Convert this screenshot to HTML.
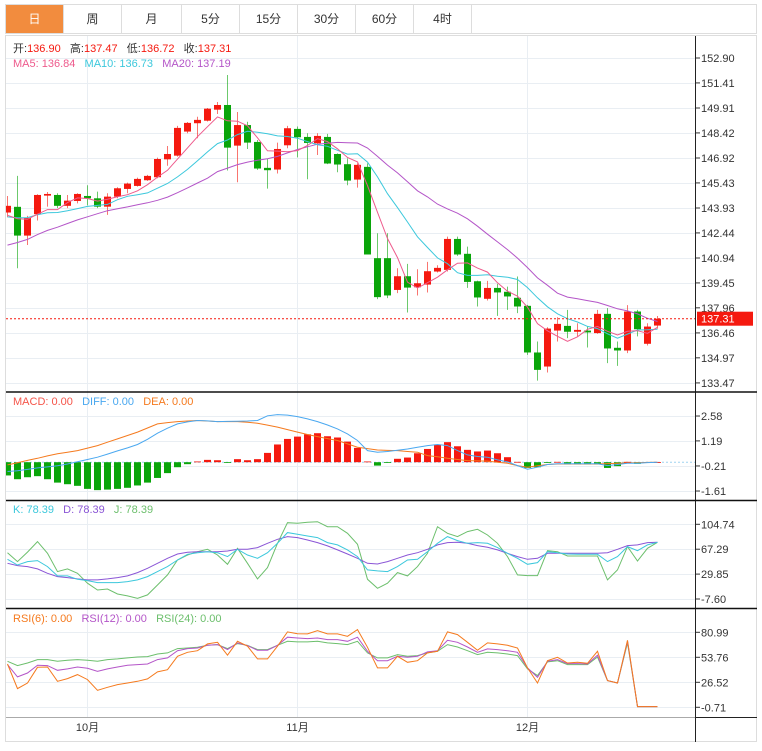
<!DOCTYPE html>
<html><head><meta charset="utf-8">
<style>
body{margin:0;background:#fff;width:762px;height:751px;overflow:hidden;font-family:"Liberation Sans","Noto Sans CJK SC",sans-serif}
#tabs{position:absolute;left:5px;top:4px;width:752px;height:30px;display:flex;border:1px solid #ddd;box-sizing:border-box}
.tab{width:58px;height:28px;line-height:28px;text-align:center;font-size:12px;color:#333;border-right:1px solid #ddd;box-sizing:border-box}
.tab.on{background:#f28c3e;color:#fff}
svg{position:absolute;left:0;top:0}
</style></head><body>
<div id="tabs">
<div class="tab on">日</div>
<div class="tab">周</div>
<div class="tab" style="width:60px">月</div>
<div class="tab">5分</div>
<div class="tab">15分</div>
<div class="tab">30分</div>
<div class="tab">60分</div>
<div class="tab">4时</div>
</div>
<svg id="chart" width="762" height="751"></svg>
<script>
const opens=[143.66,144.00,142.28,143.56,144.67,144.71,144.06,144.35,144.65,144.51,144.01,144.61,145.07,145.25,145.59,145.77,146.84,147.06,148.50,149.00,149.15,149.81,150.09,147.66,148.89,147.88,146.33,146.23,147.68,148.66,148.18,147.80,148.18,147.16,146.55,145.63,146.39,140.93,140.93,139.03,139.85,139.19,139.35,140.13,140.23,142.08,141.19,139.55,138.50,139.15,138.92,138.56,138.08,135.29,134.45,136.60,136.88,136.53,136.60,136.45,137.60,135.57,135.41,137.74,135.81,136.90];
const closes=[144.06,142.28,143.34,144.71,144.77,144.06,144.37,144.77,144.51,144.01,144.61,145.11,145.39,145.67,145.85,146.86,147.16,148.72,149.02,149.20,149.87,150.09,147.54,148.89,147.84,146.29,146.19,147.46,148.70,148.16,147.82,148.24,146.59,146.53,145.57,146.51,141.15,138.60,138.70,139.85,139.17,139.43,140.15,140.35,142.08,141.15,139.51,138.58,139.15,138.88,138.64,138.04,135.29,134.25,136.72,137.00,136.53,136.64,136.49,137.60,135.53,135.41,137.74,136.68,136.84,137.31];
const highs=[144.65,145.85,143.46,144.75,144.89,144.81,144.71,144.81,145.29,144.91,144.81,145.17,145.45,145.75,145.91,146.94,147.64,148.84,149.07,149.39,149.91,150.27,151.88,149.67,149.09,148.00,146.86,147.84,148.84,148.80,148.40,148.40,148.36,147.20,146.90,146.60,146.60,142.42,142.42,140.33,140.59,140.27,140.71,140.51,142.22,142.22,141.62,139.59,139.57,139.39,139.23,139.83,138.14,135.95,136.80,137.40,137.84,137.04,136.84,137.84,137.94,135.95,138.12,137.84,137.04,137.47];
const lows=[143.38,140.33,141.72,143.18,144.01,143.92,143.92,144.21,144.09,143.92,143.52,144.51,144.81,145.21,145.55,145.71,146.46,147.00,148.40,148.10,149.10,149.55,146.17,145.47,147.46,146.21,145.09,145.99,147.50,146.96,145.65,147.10,146.55,146.07,145.29,145.15,141.15,138.48,138.54,138.84,137.68,138.70,138.88,140.07,140.13,141.07,139.15,138.04,138.40,137.48,137.84,137.64,135.15,133.61,134.09,135.95,136.15,136.25,135.59,136.41,134.65,134.49,135.25,136.25,135.71,136.72];
const priorCloses=[139.2,139.6,139.0,139.8,140.2,139.9,140.5,140.8,140.3,141.0,142.8,143.2,143.0,143.6,143.9,143.3,143.5,143.2,143.4];
const macdHist=[-0.74,-0.95,-0.84,-0.78,-0.95,-1.14,-1.23,-1.32,-1.49,-1.56,-1.53,-1.49,-1.43,-1.30,-1.14,-0.88,-0.61,-0.28,-0.11,0.04,0.13,0.11,-0.04,0.17,0.11,0.17,0.52,0.99,1.30,1.43,1.56,1.62,1.45,1.38,1.15,0.80,0.04,-0.19,-0.02,0.19,0.26,0.50,0.74,0.97,1.12,0.89,0.69,0.60,0.65,0.50,0.28,0.02,-0.32,-0.28,-0.03,0.02,-0.13,-0.13,-0.13,-0.13,-0.32,-0.22,0.02,-0.09,0.01,0.0];
const diffVals=[-0.52,-0.48,-0.40,-0.32,-0.26,-0.20,-0.10,0.02,0.15,0.28,0.45,0.63,0.80,0.99,1.28,1.62,1.90,2.14,2.25,2.33,2.31,2.27,2.28,2.29,2.30,2.33,2.59,2.66,2.63,2.55,2.42,2.27,2.08,1.86,1.58,1.21,0.65,0.56,0.60,0.67,0.74,0.84,0.93,0.99,0.93,0.65,0.41,0.32,0.28,0.13,0.02,-0.19,-0.39,-0.28,-0.13,-0.09,-0.09,-0.09,-0.09,-0.09,-0.19,-0.13,-0.06,-0.06,-0.02,0];
const deaVals=[-0.15,-0.03,0.10,0.22,0.35,0.47,0.56,0.65,0.79,0.93,1.12,1.30,1.49,1.68,1.91,2.14,2.21,2.27,2.30,2.33,2.30,2.27,2.27,2.27,2.23,2.18,2.07,1.96,1.82,1.68,1.55,1.43,1.32,1.21,1.02,0.84,0.76,0.68,0.66,0.65,0.60,0.56,0.37,0.30,0.22,0.15,0.09,0.07,0.06,0.0,-0.06,-0.19,-0.28,-0.20,-0.13,-0.10,-0.10,-0.10,-0.10,-0.10,-0.08,-0.06,-0.04,-0.03,-0.01,0];
const kVals=[52.1,43.6,48.6,50.1,41.1,27.1,27.1,22.1,20.1,17.1,17.1,17.1,18.6,21.1,26.1,33.6,41.1,51.1,59.6,62.1,63.6,62.1,56.1,67.2,58.6,53.6,62.1,76.2,92.2,89.7,87.2,84.7,77.2,73.7,66.2,56.1,36.1,34.6,33.6,41.1,51.1,52.1,63.6,76.2,86.2,80.2,76.2,77.2,76.2,69.7,61.1,53.6,44.6,47.1,63.6,62.1,60.1,59.6,59.6,59.6,48.6,56.1,71.2,65.1,73.7,77.7];
const dVals=[46.1,42.6,41.1,37.6,31.1,26.1,24.6,22.6,21.1,21.1,22.6,24.6,27.1,32.1,38.6,46.1,53.6,60.1,62.6,63.6,63.6,63.6,64.6,67.2,67.2,69.7,76.2,82.2,86.2,84.7,81.2,77.2,72.2,66.2,60.1,53.6,46.1,45.1,48.6,53.6,58.6,62.1,67.2,73.7,77.2,77.7,76.2,72.7,70.2,66.2,61.1,56.1,52.1,53.6,61.1,61.1,61.1,61.1,61.1,61.1,62.1,67.2,72.7,73.7,77.2,77.7];
const jVals=[62.1,48.6,63.0,78.7,61.1,33.6,37.6,31.1,16.1,6.0,7.5,0.0,-3.0,-6.5,-1.5,13.5,28.6,51.1,58.6,63.6,67.2,58.6,44.6,68.7,46.1,22.6,39.6,76.2,107.2,106.2,107.7,108.7,101.2,101.2,91.2,74.7,22.1,8.5,16.1,32.1,27.1,41.1,61.1,101.2,91.2,86.2,93.7,97.2,88.7,76.2,56.1,28.6,27.6,27.6,65.1,63.6,57.1,57.1,57.1,57.1,21.1,36.1,71.2,49.6,68.7,77.7];
const rsi6=[46.5,19.7,25.8,42.9,43.2,27.6,30.5,34.9,29.5,17.8,21.1,24.0,25.8,27.6,30.2,37.8,40.3,54.9,59.2,61.0,68.3,70.1,56.0,71.2,65.8,52.0,52.0,65.8,81.4,79.5,79.2,82.8,79.2,79.2,76.6,83.9,64.7,42.2,42.2,54.9,48.3,50.1,58.5,60.3,81.4,78.5,70.1,61.4,69.4,68.3,66.8,63.9,42.2,25.8,50.1,53.8,47.6,48.3,47.2,60.3,28.4,25.8,72.3,0,0,0];
const rsi12=[45.8,32.4,36.7,45.1,44.7,39.6,41.1,43.2,41.8,38.5,41.1,43.2,45.1,45.8,46.5,51.2,53.1,61.0,63.2,63.9,66.8,67.6,62.1,69.4,66.5,61.4,61.4,66.8,75.6,74.8,74.1,74.8,73.0,73.0,71.2,75.6,60.3,50.1,50.1,54.9,53.8,54.9,59.6,61.0,72.3,70.1,65.0,59.2,62.9,62.1,61.0,59.2,42.2,32.0,49.4,51.2,46.9,46.9,46.5,56.0,28.4,25.8,71.2,0,0,0];
const rsi24=[49.4,44.7,47.6,51.2,51.2,49.4,50.5,51.2,50.5,49.4,51.2,52.0,53.1,54.1,54.5,57.4,58.5,63.2,63.9,64.7,66.8,67.6,63.2,68.7,66.8,62.1,62.1,66.8,71.2,70.5,70.5,71.2,69.4,68.7,67.6,71.2,58.5,53.1,53.1,56.7,54.9,55.6,58.5,60.3,67.6,65.0,61.0,56.7,59.2,58.5,57.4,55.6,41.1,33.8,48.7,50.1,45.8,45.8,45.8,54.1,28.4,25.8,69.4,0,0,0];
const priceTicks=[152.90,151.41,149.91,148.42,146.92,145.43,143.93,142.44,140.94,139.45,137.96,136.46,134.97,133.47];
const macdTicks=[2.58,1.19,-0.21,-1.61];
const kdjTicks=[104.74,67.29,29.85,-7.60];
const rsiTicks=[80.99,53.76,26.52,-0.71];
const monthLabels=["10月","11月","12月"];
const monthIndex=[8,29,52];

const NS="http://www.w3.org/2000/svg";
const svg=document.getElementById('chart');
const RED="#f5190f",GREEN="#0aa50a";
const xAt=i=>7.5+10*i;
const yPrice=p=>58+(152.90-p)*(25/1.495);
const yMacd=v=>462.2-v*17.9;
const yKdj=v=>524.3+(104.74-v)*0.665;
const yRsi=v=>632.3+(80.99-v)*0.918;
function mk(tag,attrs,parent){const e=document.createElementNS(NS,tag);for(const k in attrs)e.setAttribute(k,attrs[k]);(parent||svg).appendChild(e);return e;}
function txt(x,y,s,fill,size,parent,anchor){const t=mk('text',{x:x,y:y,fill:fill,'font-size':size||11,'text-anchor':anchor||'start','font-family':'"Liberation Sans","Noto Sans CJK SC",sans-serif'},parent);t.textContent=s;return t;}

const frame=mk('rect',{x:5.5,y:35.5,width:751,height:706,fill:'none',stroke:'#ddd'});


const clip=mk('clipPath',{id:'pc'});mk('rect',{x:6,y:36,width:689,height:682},clip);

const grid=mk('g',{stroke:'#e9eef3','stroke-width':1});


function hgrid(ticks,fy){ticks.forEach(v=>{const y=Math.round(fy(v))+0.5;mk('line',{x1:6,x2:695,y1:y,y2:y},grid);});}
hgrid(priceTicks,yPrice);hgrid(macdTicks,yMacd);hgrid(kdjTicks,yKdj);hgrid(rsiTicks,yRsi);
monthIndex.forEach(i=>{const x=Math.floor(xAt(i))+0.5;mk('line',{x1:x,x2:x,y1:36,y2:717},grid);});

const axes=mk('g',{});


mk('line',{x1:695.5,x2:695.5,y1:36,y2:742,stroke:'#222'},axes);
[392,500.5,608.5].forEach(y=>mk('line',{x1:6,x2:757,y1:y,y2:y,stroke:'#111','stroke-width':1.5},axes));
mk('line',{x1:6,x2:695,y1:717.5,y2:717.5,stroke:'#aaa'},axes);
mk('line',{x1:695,x2:757,y1:717.5,y2:717.5,stroke:'#222'},axes);
function yAxis(ticks,fy,name){const g=mk('g',{});
 ticks.forEach(v=>{const y=fy(v);mk('line',{x1:696,x2:700,y1:y,y2:y,stroke:'#333'},g);txt(701,y+4,v.toFixed(2),'#333',11,g);});}
yAxis(priceTicks,yPrice,'price-y-axis');yAxis(macdTicks,yMacd,'macd-y-axis');yAxis(kdjTicks,yKdj,'kdj-y-axis');yAxis(rsiTicks,yRsi,'rsi-y-axis');
const xa=mk('g',{});
monthLabels.forEach((s,k)=>txt(xAt(monthIndex[k]),731,s,'#333',11,xa,'middle'));

const cg=mk('g',{'clip-path':'url(#pc)'});


closes.forEach((c,i)=>{const o=opens[i];const col=c>=o?RED:GREEN;const x=xAt(i);
 const w=mk('line',{x1:x,x2:x,y1:yPrice(highs[i]),y2:yPrice(lows[i]),stroke:col,'stroke-opacity':0.6},cg);
 
 const top=yPrice(Math.max(o,c)),bot=yPrice(Math.min(o,c));
 const r=mk('rect',{x:x-3.5,y:top,width:7,height:Math.max(1,bot-top),fill:col},cg);
 
 
});
const all=priorCloses.concat(closes);
function ma(n){return closes.map((c,i)=>{const j=i+priorCloses.length;let s=0;for(let k=j-n+1;k<=j;k++)s+=all[k];return s/n;});}
function poly(vals,fy,color,name,w){const pts=vals.map((v,i)=>xAt(i)+','+fy(v).toFixed(1)).join(' ');
 const p=mk('polyline',{points:pts,fill:'none',stroke:color,'stroke-width':w||1,'clip-path':'url(#pc)'});
 return p;}
poly(ma(20),yPrice,'#b455c8','ma20-line');
poly(ma(10),yPrice,'#3cc8dc','ma10-line');
poly(ma(5),yPrice,'#ee5a8c','ma5-line');
const last=closes[closes.length-1];
const lp=mk('line',{x1:6,x2:695,y1:yPrice(last),y2:yPrice(last),stroke:RED,'stroke-dasharray':'2,2'});

const tag=mk('rect',{x:697,y:yPrice(last)-7,width:56,height:14,fill:RED});

txt(701,yPrice(last)+4,last.toFixed(2),'#fff',11);

const mz=mk('line',{x1:6,x2:695,y1:yMacd(0),y2:yMacd(0),stroke:'#9fd4f0','stroke-dasharray':'2,2'});

const mg=mk('g',{'clip-path':'url(#pc)'});
macdHist.forEach((v,i)=>{const y0=yMacd(0),y1=yMacd(v);const b=mk('rect',{x:xAt(i)-3.5,y:Math.min(y0,y1),width:7,height:Math.max(0.8,Math.abs(y1-y0)),fill:v>=0?RED:GREEN},mg);
 });
poly(deaVals,yMacd,'#f57a1e','dea-line');
poly(diffVals,yMacd,'#4aa8f0','diff-line');
poly(jVals,yKdj,'#6cbf6c','j-line');
poly(dVals,yKdj,'#8a55d6','d-line');
poly(kVals,yKdj,'#3cc8dc','k-line');
poly(rsi24,yRsi,'#6cbf6c','rsi24-line');
poly(rsi12,yRsi,'#b455c8','rsi12-line');
poly(rsi6,yRsi,'#f57a1e','rsi6-line');

function legend(y,items,name){const g=mk('g',{});
 const t=mk('text',{x:13,y:y,'font-size':11,'font-family':'"Liberation Sans","Noto Sans CJK SC",sans-serif'},g);
 items.forEach(([s,c])=>{const ts=mk('tspan',{fill:c},t);ts.textContent=s;});}
legend(52,[['开:','#333'],['136.90  ',RED],[' 高:','#333'],['137.47  ',RED],[' 低:','#333'],['136.72  ',RED],[' 收:','#333'],['137.31',RED]],'ohlc-legend');
legend(67,[['MA5: 136.84   ','#ee5a8c'],['MA10: 136.73   ','#3cc8dc'],['MA20: 137.19','#b455c8']],'ma-legend');
legend(405,[['MACD: 0.00   ','#f5554a'],['DIFF: 0.00   ','#4aa8f0'],['DEA: 0.00','#f57a1e']],'macd-legend');
legend(513,[['K: 78.39   ','#3cc8dc'],['D: 78.39   ','#8a55d6'],['J: 78.39','#6cbf6c']],'kdj-legend');
legend(622,[['RSI(6): 0.00   ','#f57a1e'],['RSI(12): 0.00   ','#b455c8'],['RSI(24): 0.00','#6cbf6c']],'rsi-legend');
document.querySelectorAll('svg text').forEach(t=>{t.style.whiteSpace='pre';});
</script>
</body></html>
